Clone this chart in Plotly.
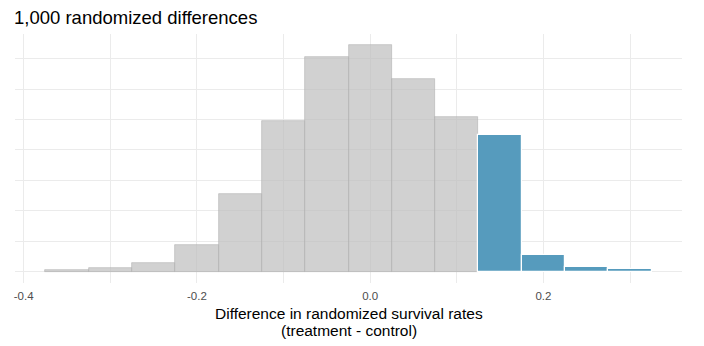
import plotly.graph_objects as go

# bin centres (width 0.05) and counts
bin_centers = [-0.35, -0.30, -0.25, -0.20, -0.15, -0.10, -0.05, 0.00,
               0.05, 0.10, 0.15, 0.20, 0.25, 0.30]
counts = [1, 3, 7, 22, 64, 124, 176, 186, 158, 127, 112, 14, 4, 2]
in_tail = [False] * 10 + [True] * 4
bin_width = 0.05
x_ticks = [-0.4, -0.2, 0.0, 0.2]
x_tick_text = ["-0.4", "-0.2", "0.0", "0.2"]
title_text = "1,000 randomized differences"
x_title_lines = ["Difference in randomized survival rates", "(treatment - control)"]

grey_x = [c for c, t in zip(bin_centers, in_tail) if not t]
grey_y = [n for n, t in zip(counts, in_tail) if not t]
blue_x = [c for c, t in zip(bin_centers, in_tail) if t]
blue_y = [n for n, t in zip(counts, in_tail) if t]

fig = go.Figure()
fig.add_trace(go.Bar(
    x=grey_x, y=grey_y, width=bin_width,
    marker=dict(color="rgba(190,190,190,0.7)",
                line=dict(color="rgba(175,175,175,0.8)", width=0.7)),
    showlegend=False, hoverinfo="x+y"))
fig.add_trace(go.Bar(
    x=blue_x, y=blue_y, width=bin_width,
    marker=dict(color="#569BBD", line=dict(color="white", width=1.2)),
    showlegend=False, hoverinfo="x+y"))

grid = "#EBEBEB"
ymax = max(counts)
H = 346
top, bottom = 34, 63
plot_h = H - top - bottom


def paper_y(py):
    return (H - bottom - py) / plot_h


fig.update_layout(
    width=704, height=H,
    margin=dict(l=15, r=22, t=top, b=bottom),
    paper_bgcolor="white", plot_bgcolor="white",
    bargap=0,
    font=dict(family="Liberation Sans, Arial, sans-serif", color="#000000"),
    title=dict(text=title_text,
               x=14 / 704, xanchor="left", xref="container",
               y=1 - 18 / H, yanchor="middle", yref="container",
               font=dict(size=18.5, color="#000000")),
    xaxis=dict(
        range=[-0.41, 0.36],
        tickvals=x_ticks, ticktext=x_tick_text,
        tickfont=dict(size=11.5, color="#4D4D4D"),
        ticklabelstandoff=4,
        showgrid=True, gridcolor=grid, gridwidth=1.1,
        minor=dict(tickvals=[-0.3, -0.1, 0.1, 0.3], showgrid=True,
                   gridcolor=grid, gridwidth=0.6),
        zeroline=False, showline=False, ticks="",
    ),
    yaxis=dict(
        range=[-0.05 * ymax, 1.05 * ymax],
        tickvals=[0, 50, 100, 150],
        showticklabels=False,
        showgrid=True, gridcolor=grid, gridwidth=1.1,
        minor=dict(tickvals=[25, 75, 125, 175], showgrid=True,
                   gridcolor=grid, gridwidth=0.6),
        zeroline=False, showline=False, ticks="",
    ),
    annotations=[
        dict(text=x_title_lines[0], x=0.5, xref="paper", xanchor="center",
             y=paper_y(313.5), yref="paper", yanchor="middle", showarrow=False,
             font=dict(size=15.5, color="#000000")),
        dict(text=x_title_lines[1], x=0.5, xref="paper", xanchor="center",
             y=paper_y(330.5), yref="paper", yanchor="middle", showarrow=False,
             font=dict(size=15.5, color="#000000")),
    ],
)

fig.write_html("out.html")
